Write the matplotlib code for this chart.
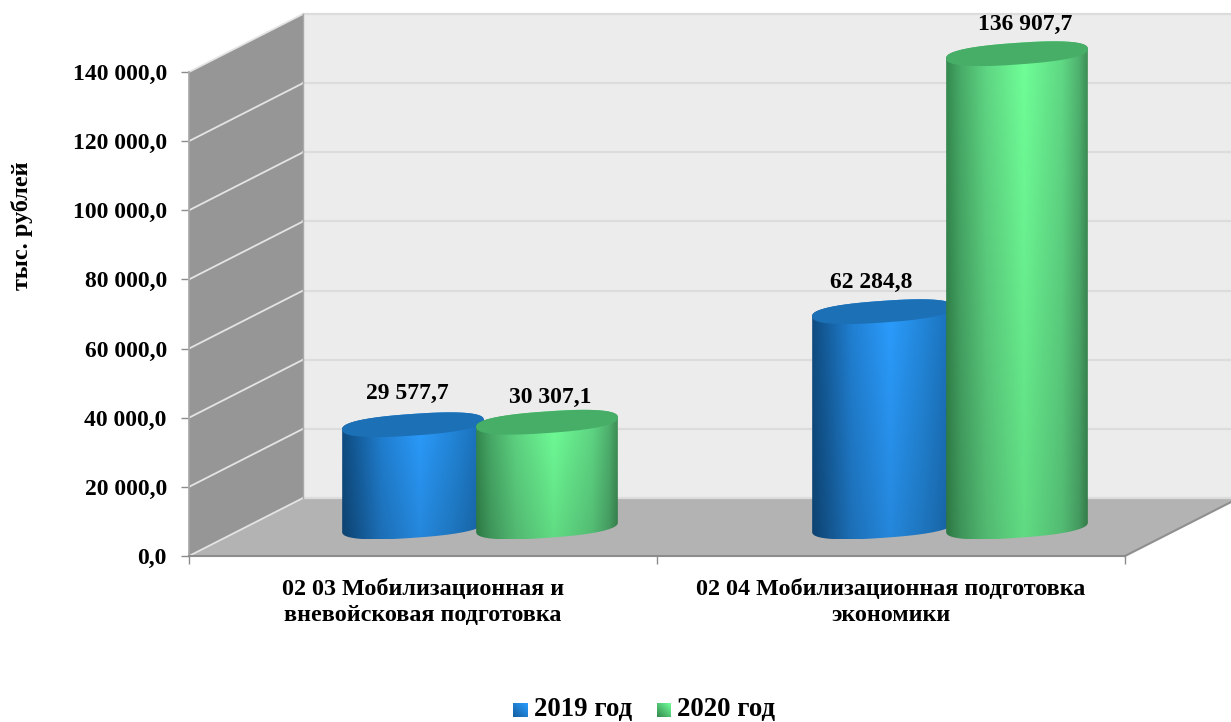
import numpy as np
import matplotlib
matplotlib.use("Agg")
import matplotlib.pyplot as plt
from matplotlib.path import Path
from matplotlib.patches import Polygon

plt.rcParams['font.family'] = ['Liberation Serif', 'DejaVu Serif']
plt.rcParams['font.weight'] = 'bold'

categories = ["02 03 Мобилизационная и\nвневойсковая подготовка",
              "02 04 Мобилизационная подготовка\nэкономики"]
series_names = ["2019 год", "2020 год"]
values_2019 = [29577.7, 62284.8]
values_2020 = [30307.1, 136907.7]
value_labels_2019 = ["29 577,7", "62 284,8"]
value_labels_2020 = ["30 307,1", "136 907,7"]
ytick_values = [0, 20000, 40000, 60000, 80000, 100000, 120000, 140000]
ytick_labels = ["0,0", "20 000,0", "40 000,0", "60 000,0", "80 000,0",
                "100 000,0", "120 000,0", "140 000,0"]
y_title = "тыс. рублей"

W, H = 1231, 722
L, R, B, T = 189, 1125, 556, 72
fig = plt.figure(figsize=(W / 100, H / 100), dpi=100, facecolor='white')
ax = fig.add_axes([L / W, (H - B) / H, (R - L) / W, (B - T) / H])
XMIN, XMAX, YMIN, YMAX = -0.5, 1.5, 0, 140000
ax.set_xlim(XMIN, XMAX)
ax.set_ylim(YMIN, YMAX)
ax.patch.set_visible(False)

sx = (XMAX - XMIN) / (R - L)   # data per pixel
sy = (YMAX - YMIN) / (B - T)
dx, dy = 114 * sx, 58 * sy     # depth of the 3D box
xend = XMAX + dx


def px(x, y):
    return XMIN + (x - L) * sx, (B - y) * sy


def poly(pts, **kw):
    p = Polygon(pts, closed=True, clip_on=False, **kw)
    ax.add_patch(p)
    return p


# walls and floor
poly([(XMIN, 0), (XMIN + dx, dy), (XMIN + dx, YMAX + dy), (XMIN, YMAX)],
     fc='#969696', ec='none', zorder=1)
poly([(XMIN + dx, dy), (xend, dy), (xend, YMAX + dy), (XMIN + dx, YMAX + dy)],
     fc='#ececec', ec='none', zorder=1)
poly([(XMIN, 0), (XMIN + dx, dy), (xend, dy), (XMAX, 0)],
     fc='#b3b3b3', ec='none', zorder=1)

for v in ytick_values:
    ax.plot([XMIN, XMIN + dx], [v, v + dy], color='#e4e4e4',
            lw=1.3, clip_on=False, zorder=2)
    ax.plot([XMIN + dx, xend], [v + dy, v + dy], color='#dcdcdc',
            lw=1.6, clip_on=False, zorder=2)
ax.plot([XMIN + dx, XMIN + dx], [dy, YMAX + dy], color='#a8a8a8', lw=1,
        clip_on=False, zorder=2)
ax.plot([XMAX, xend], [0, dy], color='#8f8f8f', lw=1.5, clip_on=False, zorder=2)

# cylinders
A, THETA = 71 * sx, np.deg2rad(4.0)
ca, sa = np.cos(THETA), np.sin(THETA)
ROUND = 0.82


def ell(cx, cy, t):
    u = np.sign(np.cos(t)) * np.abs(np.cos(t)) ** ROUND
    v = np.sign(np.sin(t)) * np.abs(np.sin(t)) ** ROUND
    xp = 71 * u * ca - 10.8 * v * sa
    yp = 71 * u * sa + 10.8 * v * ca
    return cx + xp * sx, cy + yp * sy


def shade(stops, n=160):
    pos = [s[0] for s in stops]
    rgb = np.array([matplotlib.colors.to_rgb(s[1]) for s in stops])
    xs = np.linspace(0, 1, n)
    row = np.stack([np.interp(xs, pos, rgb[:, i]) for i in range(3)], axis=1)
    fade = np.linspace(0.86, 1.0, 100)[:, None, None]  # image row 0 = bottom
    return np.clip(row[None, :, :] * fade, 0, 1)


def swatch(dark, light, n=24):
    d, l = np.array(matplotlib.colors.to_rgb(dark)), np.array(matplotlib.colors.to_rgb(light))
    u, v = np.meshgrid(np.linspace(0, 1, n), np.linspace(0, 1, n))
    w = ((u + v) / 2)[:, :, None]
    return d * (1 - w) + l * w


blue_grad = shade([(0, '#0f4d82'), (0.10, '#155f9f'), (0.28, '#2181d4'),
                   (0.55, '#2b9dff'), (0.78, '#2388dc'), (1, '#1a6fb8')])
green_grad = shade([(0, '#348a4f'), (0.10, '#48ac68'), (0.28, '#5fd683'),
                    (0.55, '#70ff98'), (0.82, '#60d985'), (0.94, '#4fb26f'), (1, '#3d8f56')])


def cylinder(xc, value, grad, top_color, z):
    base = dy / 2
    t_front = np.linspace(np.pi, 2 * np.pi, 80)
    t_back = np.linspace(0, np.pi, 80)
    xb, yb = ell(xc, base, t_front)
    xt, yt = ell(xc, base + value, t_back)
    verts = np.column_stack([np.r_[xb, xt], np.r_[yb, yt]])
    path = Path(np.vstack([verts, verts[0]]), closed=True)
    ylo, yhi = yb.min(), yt.max()
    im = ax.imshow(grad, extent=[xc - A, xc + A, ylo, yhi], origin='lower',
                   aspect='auto', interpolation='bilinear', zorder=z)
    im.set_clip_box(fig.bbox)
    im.set_clip_path(path, transform=ax.transData)
    t = np.linspace(0, 2 * np.pi, 160)
    xe, ye = ell(xc, base + value, t)
    poly(np.column_stack([xe, ye]), fc=top_color, ec='none', zorder=z + 0.1)


SHIFT = 67 * sx
NUDGE = [0, 2 * sx]
for i in range(len(categories)):
    c = i + dx / 2 + NUDGE[i]
    cylinder(c - SHIFT, values_2019[i], blue_grad, '#1c70b6', 3 + i)
    cylinder(c + SHIFT, values_2020[i], green_grad, '#46ae67', 3.5 + i)

# value labels
label_font = dict(fontsize=17, fontweight='bold', ha='center', va='center',
                  color='black', clip_on=False, zorder=8)
off_2019 = [(-5.5, 31.5), (-12, 29)]
off_2020 = [(3.5, 25), (8, 29)]
for i in range(len(categories)):
    c = i + dx / 2 + NUDGE[i]
    ax.text(c - SHIFT + off_2019[i][0] * sx, values_2019[i] + dy / 2 + off_2019[i][1] * sy,
            value_labels_2019[i], **label_font)
    ax.text(c + SHIFT + off_2020[i][0] * sx, values_2020[i] + dy / 2 + off_2020[i][1] * sy,
            value_labels_2020[i], **label_font)

# axes furniture
for s in ('top', 'right'):
    ax.spines[s].set_visible(False)
ax.spines['left'].set_color('#a6a6a6')
ax.spines['left'].set_linewidth(1.2)
ax.spines['bottom'].set_color('#8c8c8c')
ax.spines['bottom'].set_linewidth(1.5)
ax.spines['left'].set_zorder(2.5)
ax.spines['bottom'].set_zorder(2.5)

ax.set_yticks(ytick_values)
ax.set_yticklabels(ytick_labels, fontsize=17, fontweight='bold')
ax.tick_params(axis='y', length=6, width=1, color='#8c8c8c', pad=10)
ax.set_xticks([-0.5, 0.5, 1.5])
ax.set_xticklabels([])
ax.tick_params(axis='x', which='major', length=5.5, width=1, color='#8c8c8c')
ax.set_xticks([0, 1], minor=True)
ax.set_xticklabels(categories, minor=True, fontsize=17.4, fontweight='bold', linespacing=1.3)
ax.tick_params(axis='x', which='minor', length=0, pad=16.5)

ax.set_ylabel(y_title, fontsize=17.5, fontweight='bold', va='center')
ax.yaxis.set_label_coords((22 - L) / (R - L), (B - 226) / (B - T))

# legend
legend_colors = (('#155f9f', '#2b9dff'), ('#348a4f', '#70ff98'))
for name, (dk, lt), (x0, x1), tx in zip(series_names, legend_colors,
                                        ((513, 528), (657, 671)), (534, 677)):
    x_a, y_a = px(x0, 717)
    x_b, y_b = px(x1, 703)
    im = ax.imshow(swatch(dk, lt), extent=[x_a, x_b, y_a, y_b], origin='lower',
                   aspect='auto', zorder=5)
    im.set_clip_box(fig.bbox)
    fig.text(tx / W, (H - 709.5) / H, name, fontsize=19.4, fontweight='bold',
             ha='left', va='center')

ax.set_xlim(XMIN, XMAX)
ax.set_ylim(YMIN, YMAX)
fig.savefig('out.png', dpi=100, facecolor='white')
